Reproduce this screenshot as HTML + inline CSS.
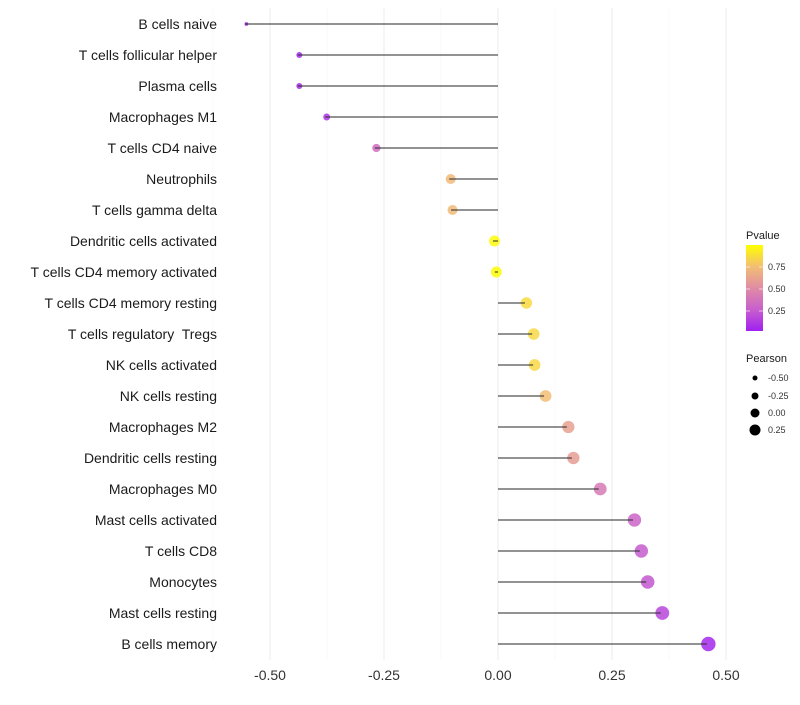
<!DOCTYPE html>
<html><head><meta charset="utf-8"><style>
body{margin:0;background:#fff;font-family:"Liberation Sans",sans-serif}
</style></head><body>
<svg id="c" width="800" height="700" xmlns="http://www.w3.org/2000/svg"></svg>
<script>
const categories=["B cells naive","T cells follicular helper","Plasma cells","Macrophages M1","T cells CD4 naive","Neutrophils","T cells gamma delta","Dendritic cells activated","T cells CD4 memory activated","T cells CD4 memory resting","T cells regulatory  Tregs","NK cells activated","NK cells resting","Macrophages M2","Dendritic cells resting","Macrophages M0","Mast cells activated","T cells CD8","Monocytes","Mast cells resting","B cells memory"];
const pearson=[-0.555,-0.439,-0.439,-0.379,-0.270,-0.107,-0.103,-0.011,-0.007,0.059,0.075,0.077,0.101,0.151,0.162,0.221,0.296,0.311,0.325,0.357,0.458];
const pvalues=[0.01,0.04,0.04,0.08,0.32,0.73,0.73,0.98,0.99,0.86,0.85,0.85,0.75,0.6,0.58,0.4,0.28,0.24,0.22,0.15,0.03];
const xTicks=[-0.5,-0.25,0,0.25,0.5];
const xTickLabels=["-0.50","-0.25","0.00","0.25","0.50"];
const NS="http://www.w3.org/2000/svg";
const svg=document.getElementById('c');
const x=v=>498+v*456;
const y=i=>24+i*31;
const rad=v=>Math.sqrt(3.5+48*(v+0.555));
const stops=[[0,[160,32,240]],[0.25,[200,95,205]],[0.5,[224,140,165]],[0.75,[242,190,115]],[1,[255,255,0]]];
function col(p){for(let k=1;k<stops.length;k++){if(p<=stops[k][0]){const a=stops[k-1],b=stops[k],t=(p-a[0])/(b[0]-a[0]);return 'rgb('+a[1].map((c,j)=>Math.round(c+(b[1][j]-c)*t)).join(',')+')';}}return 'rgb(255,255,0)';}
function el(t,a,txt){const e=document.createElementNS(NS,t);for(const k in a)e.setAttribute(k,a[k]);if(txt!==undefined)e.textContent=txt;svg.appendChild(e);return e;}
[-0.625,-0.375,-0.125,0.125,0.375].forEach(v=>{const g=el('line',{x1:x(v),x2:x(v),y1:8,y2:660,stroke:'#f4f4f4','stroke-width':0.6});

});
xTicks.forEach((v,i)=>{const g=el('line',{x1:x(v),x2:x(v),y1:8,y2:660,stroke:'#ebebeb','stroke-width':1});


const t=el('text',{x:x(v),y:680,'text-anchor':'middle','font-size':14,fill:'#333'},xTickLabels[i]);

});
categories.forEach((c,i)=>{const t=el('text',{x:217,y:y(i)+5,'text-anchor':'end','font-size':14,fill:'#1a1a1a','xml:space':'preserve',style:'white-space:pre'},c);


const p=el('circle',{cx:x(pearson[i])+1.5,cy:y(i),r:rad(pearson[i]),fill:col(pvalues[i]),'fill-opacity':0.85});


const s=el('line',{x1:x(0),x2:x(pearson[i]),y1:y(i),y2:y(i),stroke:'#333','stroke-width':1.2,'stroke-opacity':0.85});

});
const defs=el('defs',{});
defs.innerHTML='<linearGradient id="g" x1="0" y1="1" x2="0" y2="0">'+stops.map(s=>'<stop offset="'+s[0]+'" stop-color="rgb('+s[1].join(',')+')"/>').join('')+'</linearGradient>';
let t=el('text',{x:746,y:239,'font-size':11,fill:'#1a1a1a'},'Pvalue');


let r=el('rect',{x:746,y:245,width:17,height:86,fill:'url(#g)'});


[[0.75,'0.75'],[0.5,'0.50'],[0.25,'0.25']].forEach(a=>{const yy=333-a[0]*88;
el('line',{x1:746,x2:750,y1:yy,y2:yy,stroke:'#fff','stroke-width':0.6});el('line',{x1:759,x2:763,y1:yy,y2:yy,stroke:'#fff','stroke-width':0.6});
const l=el('text',{x:768,y:yy+3,'font-size':9,fill:'#333'},a[1]);

});
t=el('text',{x:746,y:362,'font-size':11,fill:'#1a1a1a'},'Pearson');


[[-0.5,'-0.50',378],[-0.25,'-0.25',396],[0,'0.00',413],[0.25,'0.25',430]].forEach(a=>{
const c=el('circle',{cx:755,cy:a[2],r:4.5+a[0]*4,fill:'#000'});


const l=el('text',{x:768,y:a[2]+3,'font-size':9,fill:'#333'},a[1]);

});
</script>
</body></html>
